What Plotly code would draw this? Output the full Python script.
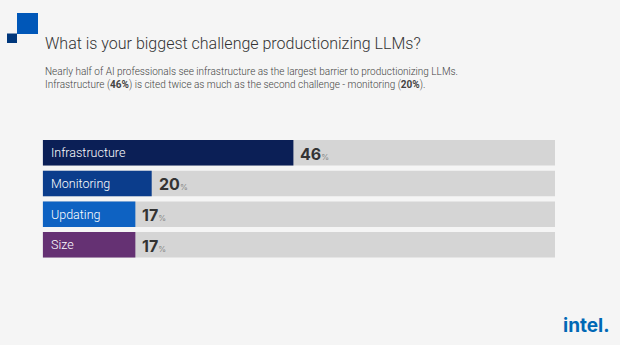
import plotly.graph_objects as go

W, H = 620, 345

categories = ["Infrastructure", "Monitoring", "Updating", "Size"]
values = [46, 20, 17, 17]
bar_colors = ["#0b1f56", "#0b3d8c", "#0e62c2", "#653173"]
axis_max = 94

title = "What is your biggest challenge productionizing LLMs?"
subtitle = ("Nearly half of AI professionals see infrastructure as the largest barrier to productionizing LLMs.<br>"
            "Infrastructure (<b>46%</b>) is cited twice as much as the second challenge - monitoring (<b>20%</b>).")

FONT = "Roboto"


def px(x):
    return x / W


def py(y):
    return 1 - y / H


fig = go.Figure()
fig.add_trace(go.Bar(
    y=categories, x=[axis_max] * len(categories), orientation="h",
    marker=dict(color="#d5d5d5", line=dict(width=0)), hoverinfo="skip", showlegend=False,
))
fig.add_trace(go.Bar(
    y=categories, x=values, orientation="h",
    marker=dict(color=bar_colors, line=dict(width=0)), showlegend=False,
))

annotations = []
for cat, val in zip(categories, values):
    annotations.append(dict(
        x=0, y=cat, xref="x", yref="y", xanchor="left", yanchor="middle", xshift=6,
        text=cat, showarrow=False,
        font=dict(family=FONT, size=12.5, color="white", weight=300),
    ))
    annotations.append(dict(
        x=val, y=cat, xref="x", yref="y", xanchor="left", yanchor="middle", xshift=5, yshift=-1,
        text=f"<b>{val}</b><span style='font-size:8px;color:#888'>%</span>", showarrow=False,
        font=dict(family="Inter", size=16, color="#333333"),
    ))

annotations.append(dict(
    x=px(43), y=py(43.5), xref="paper", yref="paper", xanchor="left", yanchor="middle",
    text=title, showarrow=False, font=dict(family=FONT, size=16, color="#333333", weight=300),
))
annotations.append(dict(
    x=px(43), y=py(78.5), xref="paper", yref="paper", xanchor="left", yanchor="middle", align="left",
    text=subtitle, showarrow=False, font=dict(family=FONT, size=10, color="#444444", weight=300),
))
annotations.append(dict(
    x=px(586), y=py(325), xref="paper", yref="paper", xanchor="center", yanchor="middle",
    text="<b>intel.</b>", showarrow=False, font=dict(family="Inter", size=19, color="#0068b5"),
))

shapes = [
    dict(type="rect", xref="paper", yref="paper", x0=px(17), x1=px(38), y0=py(13), y1=py(34),
         fillcolor="#0057b8", line=dict(width=0)),
    dict(type="rect", xref="paper", yref="paper", x0=px(7), x1=px(17), y0=py(33.5), y1=py(43),
         fillcolor="#00377c", line=dict(width=0)),
]

fig.update_layout(
    width=W, height=H,
    margin=dict(l=0, r=0, t=0, b=0),
    paper_bgcolor="#f5f5f5", plot_bgcolor="#f5f5f5",
    barmode="overlay", bargap=0.17,
    xaxis=dict(domain=[px(42.7), px(555)], range=[0, axis_max], visible=False, fixedrange=True),
    yaxis=dict(domain=[py(260.2), py(137.4)], autorange="reversed", visible=False, fixedrange=True),
    annotations=annotations, shapes=shapes,
)

fig.write_html("out.html", config={"displayModeBar": False})
